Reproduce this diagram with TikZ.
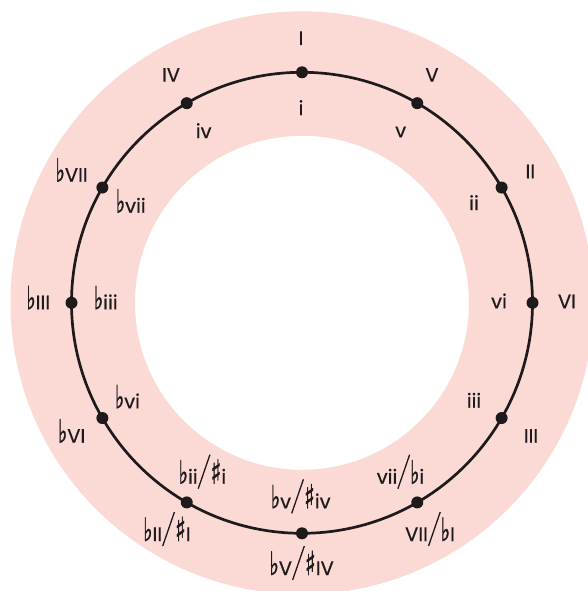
\documentclass[tikz,border=0pt]{standalone}
\usepackage{fontspec}
\usepackage{graphicx}
\setmainfont{Poppins}[FakeBold=0.5]
\newfontfamily\symfont{DejaVu Sans}[FakeBold=1.5]
\newcommand{\fl}{\scalebox{1.0}[1.65]{\symfont ♭}}
\newcommand{\shp}{\scalebox{1.15}[1.7]{\symfont ♯}}
\newcommand{\tsl}{\raisebox{-6pt}{\rotatebox[origin=c]{-19}{\rule{1.3pt}{36pt}}}}
\definecolor{pinkc}{HTML}{FBDAD5}
\definecolor{ink}{HTML}{1E1A1B}
\tikzset{
  dot/.style={circle, fill=ink, inner sep=0pt, minimum size=12pt},
  lab/.style={anchor=base, inner sep=0pt, text=ink, font=\fontsize{19.5}{22}\selectfont},
  ring/.style={draw=ink, line width=2.7pt}
}
\begin{document}
\begin{tikzpicture}[x=1pt,y=-1pt]
\useasboundingbox (0,0) rectangle (588,591);
\coordinate (C) at (302,302.8);
\begin{scope}
  \clip (0,0) rectangle (588,591);
  \fill[pinkc, even odd rule] (C) circle[radius=291.5] (C) circle[radius=167];
\end{scope}
\draw[ring] (C) circle[radius=230.5];
\foreach \k/\n in {0/I,1/V,2/II,3/VI,4/III,5/VIIbI,6/bVsIV,7/bIIsI,8/bVI,9/bIII,10/bVII,11/IV}{
  \path (C) ++({230.5*sin(30*\k)},{-230.5*cos(30*\k)}) node[dot] (d\n) {};
}
% outer labels
\node[lab] (lI) at (301,45) {I};
\node[lab] (lV) at (432,81.7) {V};
\node[lab] (lII) at (530.3,178.3) {II};
\node[lab] (lVI) at (567,308.3) {VI};
\node[lab] (lIII) at (531,442.7) {III};
\node[lab] (lVIIbI) at (430,541) {VII\tsl\fl I};
\node[lab] (lbVsIV) at (301.7,575) {\fl V\tsl\shp IV};
\node[lab] (lbIIsI) at (167,541) {\fl II\tsl\shp I};
\node[lab] (lbVI) at (71.7,442.7) {\fl VI};
\node[lab] (lbIII) at (38.3,309.3) {\fl III};
\node[lab] (lbVII) at (71.7,181.7) {\fl VII};
\node[lab] (lIV) at (171,81.7) {IV};
% inner labels
\node[lab] (li) at (301,115) {i};
\node[lab] (lv) at (400.7,137.3) {v};
\node[lab] (lii) at (474,210) {ii};
\node[lab] (lvi) at (499,308.3) {vi};
\node[lab] (liii) at (474,407.7) {iii};
\node[lab] (lviibi) at (400.5,483.7) {vii\tsl\fl i};
\node[lab] (lbvsiv) at (300.8,508.3) {\fl v\tsl\shp iv};
\node[lab] (lbiisi) at (202.5,483.7) {\fl ii\tsl\shp i};
\node[lab] (lbvi) at (127.5,408.3) {\fl vi};
\node[lab] (lbiii) at (105.8,309.3) {\fl iii};
\node[lab] (lbvii) at (130.8,212.7) {\fl vii};
\node[lab] (liv) at (203.7,138) {iv};
\end{tikzpicture}
\end{document}
